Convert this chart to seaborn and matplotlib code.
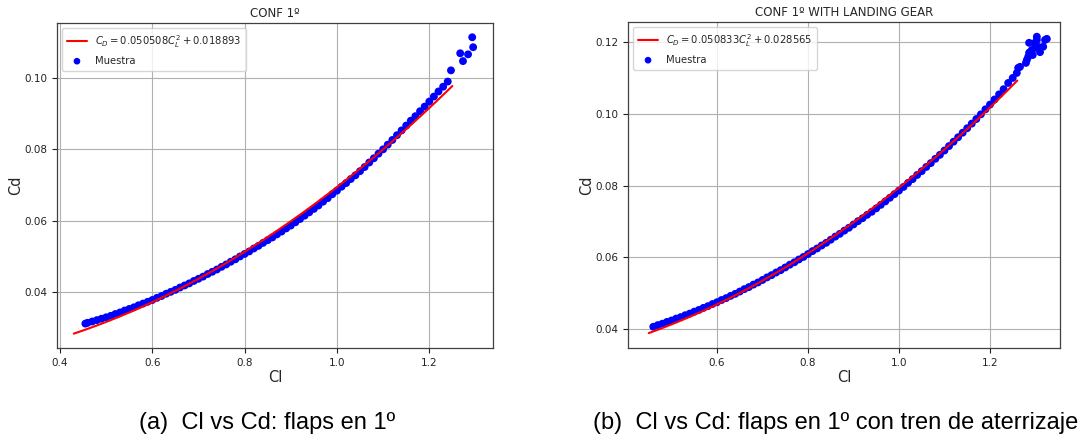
import numpy as np
import pandas as pd
import matplotlib
matplotlib.use("Agg")
import matplotlib.pyplot as plt
import seaborn as sns

# ---- data -------------------------------------------------------------
titles = ["CONF 1º", "CONF 1º WITH LANDING GEAR"]
captions = ["(a)  Cl vs Cd: flaps en 1º", "(b)  Cl vs Cd: flaps en 1º con tren de aterrizaje"]

# fitted polar coefficients  C_D = k*C_L^2 + cd0
fit_k = [0.050508, 0.050833]
fit_cd0 = [0.018893, 0.028565]
fit_cl_range = [(0.43, 1.25), (0.45, 1.26)]

cl_a = [0.455, 0.46, 0.47, 0.48, 0.49, 0.50, 0.51, 0.52, 0.53, 0.54, 0.55, 0.56, 0.57, 0.58, 0.59,
        0.60, 0.61, 0.62, 0.63, 0.64, 0.65, 0.66, 0.67, 0.68, 0.69, 0.70, 0.71, 0.72, 0.73, 0.74,
        0.75, 0.76, 0.77, 0.78, 0.79, 0.80, 0.81, 0.82, 0.83, 0.84, 0.85, 0.86, 0.87, 0.88, 0.89,
        0.90, 0.91, 0.92, 0.93, 0.94, 0.95, 0.96, 0.97, 0.98, 0.99, 1.00, 1.01, 1.02, 1.03, 1.04,
        1.05, 1.06, 1.07, 1.08, 1.09, 1.10, 1.11, 1.12, 1.13, 1.14, 1.15, 1.16, 1.17, 1.18, 1.19,
        1.20, 1.21, 1.22, 1.23, 1.24,
        1.247, 1.267, 1.273, 1.284, 1.293, 1.295]
cd_a = [0.03105, 0.03128, 0.03165, 0.03203, 0.03242, 0.03282, 0.03323, 0.03375, 0.03418, 0.03472,
        0.03517, 0.03563, 0.03620, 0.03668, 0.03718, 0.03768, 0.03829, 0.03881, 0.03944, 0.03998,
        0.04053, 0.04119, 0.04177, 0.04235, 0.04304, 0.04364, 0.04425, 0.04498, 0.04561, 0.04625,
        0.04700, 0.04767, 0.04844, 0.04912, 0.04992, 0.05062, 0.05133, 0.05216, 0.05289, 0.05373,
        0.05449, 0.05525, 0.05612, 0.05691, 0.05780, 0.05860, 0.05952, 0.06044, 0.06138, 0.06232,
        0.06328, 0.06424, 0.06532, 0.06630, 0.06740, 0.06840, 0.06952, 0.07054, 0.07168, 0.07272,
        0.07388, 0.07504, 0.07632, 0.07751, 0.07880, 0.08001, 0.08132, 0.08265, 0.08399, 0.08533,
        0.08669, 0.08806, 0.08933, 0.09072, 0.09202, 0.09343, 0.09484, 0.09627, 0.09761, 0.09905,
        0.1022, 0.1070, 0.1048, 0.1067, 0.1115, 0.1087]

cl_b = [0.46, 0.47, 0.48, 0.49, 0.50, 0.51, 0.52, 0.53, 0.54, 0.55, 0.56, 0.57, 0.58, 0.59,
        0.60, 0.61, 0.62, 0.63, 0.64, 0.65, 0.66, 0.67, 0.68, 0.69, 0.70, 0.71, 0.72, 0.73, 0.74,
        0.75, 0.76, 0.77, 0.78, 0.79, 0.80, 0.81, 0.82, 0.83, 0.84, 0.85, 0.86, 0.87, 0.88, 0.89,
        0.90, 0.91, 0.92, 0.93, 0.94, 0.95, 0.96, 0.97, 0.98, 0.99, 1.00, 1.01, 1.02, 1.03, 1.04,
        1.05, 1.06, 1.07, 1.08, 1.09, 1.10, 1.11, 1.12, 1.13, 1.14, 1.15, 1.16, 1.17, 1.18, 1.19,
        1.20, 1.21, 1.22, 1.23,
        1.24, 1.25, 1.259, 1.262, 1.266, 1.279, 1.281, 1.284, 1.286, 1.288, 1.292, 1.294, 1.286,
        1.299, 1.303, 1.303, 1.306, 1.310, 1.317, 1.325, 1.299, 1.321]
cd_b = [0.04062, 0.04109, 0.04148, 0.04197, 0.04237, 0.04289, 0.04331, 0.04384, 0.04429, 0.04484,
        0.04531, 0.04588, 0.04637, 0.04696, 0.04747, 0.04808, 0.04861, 0.04924, 0.04979, 0.05044,
        0.05111, 0.05168, 0.05237, 0.05297, 0.05367, 0.05439, 0.05502, 0.05575, 0.05640, 0.05716,
        0.05793, 0.05860, 0.05939, 0.06009, 0.06090, 0.06172, 0.06245, 0.06328, 0.06403, 0.06489,
        0.06576, 0.06654, 0.06743, 0.06823, 0.06914, 0.07006, 0.07089, 0.07183, 0.07268, 0.07364,
        0.07461, 0.07559, 0.07659, 0.07759, 0.07860, 0.07962, 0.08075, 0.08179, 0.08295, 0.08401,
        0.08518, 0.08626, 0.08746, 0.08856, 0.08977, 0.09100, 0.09223, 0.09347, 0.09473, 0.09599,
        0.09727, 0.09855, 0.09985, 0.10125, 0.10257, 0.10399, 0.10543, 0.10687,
        0.1086, 0.1100, 0.1114, 0.1128, 0.1131, 0.1142, 0.1150, 0.1159, 0.1170, 0.1172, 0.1178,
        0.1164, 0.1198, 0.1198, 0.1215, 0.1206, 0.1187, 0.1172, 0.1187, 0.1209, 0.1184, 0.1206]

samples = [(cl_a, cd_a), (cl_b, cd_b)]

# ---- style ------------------------------------------------------------
sns.set_style("ticks", {"axes.grid": True, "grid.color": "#b0b0b0",
                        "axes.edgecolor": "#404040"})
plt.rcParams["font.family"] = ["DejaVu Sans"]
plt.rcParams["mathtext.fontset"] = "dejavusans"

fig = plt.figure(figsize=(10.89, 4.41), dpi=100)
ax_pos = [[0.0523, 0.2109, 0.4004, 0.7369], [0.5767, 0.2109, 0.3967, 0.7392]]
xlims = [(0.3935, 1.338), (0.4044, 1.354)]
ylims = [(0.0242, 0.1155), (0.0347, 0.1256)]
caption_x = [267 / 1089, 836 / 1089]

for i in range(2):
    ax = fig.add_axes(ax_pos[i])
    x0, x1 = fit_cl_range[i]
    cl_fit = np.linspace(x0, x1, 200)
    cd_fit = fit_k[i] * cl_fit ** 2 + fit_cd0[i]
    lbl = r"$C_D = %.6fC_L^2 + %.6f$" % (fit_k[i], fit_cd0[i])
    sns.lineplot(x=cl_fit, y=cd_fit, ax=ax, color="red", lw=1.5, label=lbl,
                 sort=False, estimator=None, zorder=3)
    df = pd.DataFrame({"Cl": samples[i][0], "Cd": samples[i][1]})
    sns.scatterplot(data=df, x="Cl", y="Cd", ax=ax, color="blue", s=32,
                    edgecolor="none", label="Muestra", zorder=2)
    ax.set_xlim(*xlims[i])
    ax.set_ylim(*ylims[i])
    ax.set_xticks([0.4, 0.6, 0.8, 1.0, 1.2] if i == 0 else [0.6, 0.8, 1.0, 1.2])
    ax.set_yticks([0.04, 0.06, 0.08, 0.10] if i == 0 else [0.04, 0.06, 0.08, 0.10, 0.12])
    ax.tick_params(labelsize=7.5, length=3.5, width=0.8, colors="#222222")
    ax.set_xlabel("Cl", fontsize=10.5, labelpad=2)
    ax.set_ylabel("Cd", fontsize=10.5, labelpad=1)
    ax.set_title(titles[i], fontsize=8.5, pad=4)
    ax.grid(True, color="#b0b0b0", lw=0.8)
    for s in ax.spines.values():
        s.set_visible(True)
        s.set_linewidth(0.9)
    leg = ax.legend(loc="upper left", fontsize=7.2, frameon=True, borderpad=0.5,
                    labelspacing=0.6, handlelength=2.0, markerscale=0.85)
    leg.get_frame().set_edgecolor("#cccccc")
    fig.text(caption_x[i], 0.04, captions[i], ha="center", va="center",
             fontsize=17, family="Liberation Sans", color="black")

fig.savefig("out.png", dpi=100)
